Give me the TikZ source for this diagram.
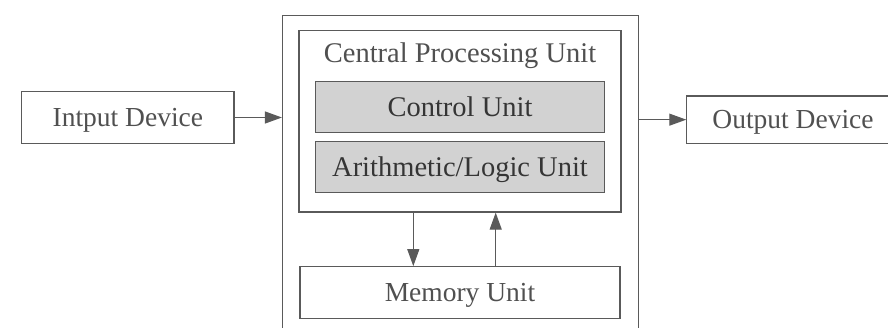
\documentclass[tikz,border=0pt]{standalone}
\usepackage{fontspec}
\setmainfont{Liberation Serif}
\usetikzlibrary{arrows.meta}
\definecolor{edge}{HTML}{5A5A5A}
\definecolor{ink}{HTML}{505050}
\definecolor{darkink}{HTML}{353535}
\definecolor{unitfill}{HTML}{D2D2D2}
\tikzset{
  frame/.style={draw=edge, line width=1.2pt, rectangle, inner sep=0pt},
  box/.style={frame, text height=18.5pt, text depth=0pt,
    font=\fontsize{27.5}{30}\selectfont, text=ink},
  unit/.style={box, fill=unitfill, minimum width=288.6pt, minimum height=51pt,
    font=\fontsize{28.5}{30}\selectfont, text=darkink},
  title/.style={inner sep=0pt, text height=19pt, text depth=0pt,
    font=\fontsize{28.5}{30}\selectfont, text=ink},
  flow/.style={draw=edge, line width=1.2pt, -{Triangle[length=17pt,width=12pt]}},
}
\begin{document}
\begin{tikzpicture}[x=1pt,y=-1pt]
  \clip (0,0) rectangle (888,327);
  \fill[white] (0,0) rectangle (888,327);

  % outer system frame (runs past the lower edge)
  \node[frame, minimum width=356pt, minimum height=324.3pt] (sys) at (460.5,177.85) {};
  % processor
  \node[frame, minimum width=322pt, minimum height=181.3pt] (cpu) at (460,121.35) {};
  \node[title] (cputitle) at (460,53) {Central Processing Unit};
  \node[unit] (cu) at (460,107.2) {Control Unit};
  \node[unit] (alu) at (460,167.2) {Arithmetic/Logic Unit};
  % memory
  \node[box, minimum width=320pt, minimum height=51.6pt] (mem) at (460,292.5) {Memory Unit};
  % devices
  \node[box, minimum width=212.3pt, minimum height=51.6pt] (in) at (127.85,117.5) {Intput Device};
  \node[box, minimum width=212.3pt, minimum height=47.3pt] (out) at (793,119.65) {Output Device};

  % data flow
  \draw[flow] (in.east) -- (sys.west |- in.east);
  \draw[flow] (sys.east |- out.west) -- (out.west);
  \coordinate (dn) at (413.3,0);
  \coordinate (up) at (495.7,0);
  \draw[flow] (dn |- cpu.south) -- (dn |- mem.north);
  \draw[flow] (up |- mem.north) -- (up |- cpu.south);
\end{tikzpicture}
\end{document}
